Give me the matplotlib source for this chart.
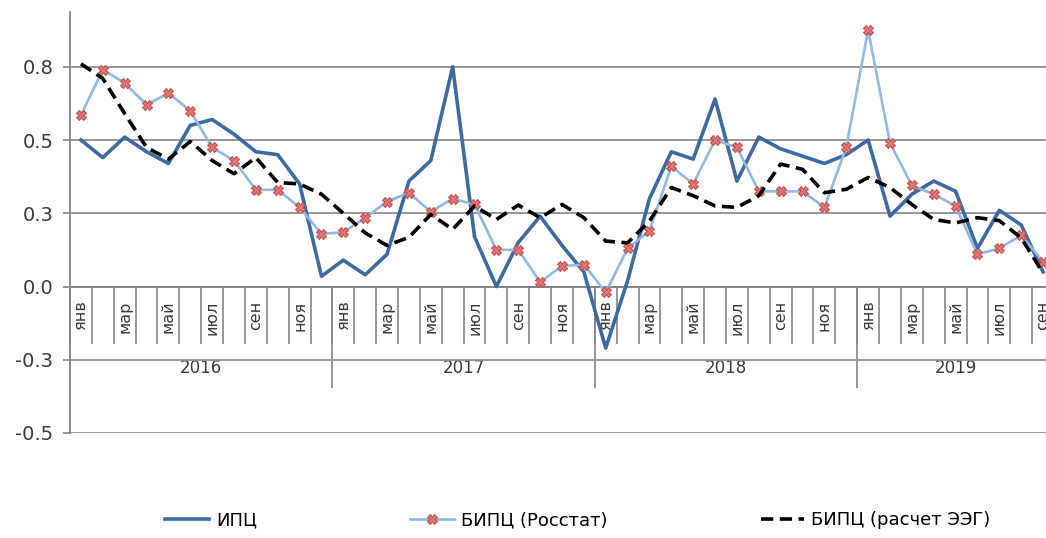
import numpy as np
import matplotlib
matplotlib.use('Agg')
import matplotlib.pyplot as plt
from matplotlib import font_manager

# monthly inflation, Jan 2016 .. Sep 2019
months = ['янв', 'фев', 'мар', 'апр', 'май', 'июн',
          'июл', 'авг', 'сен', 'окт', 'ноя', 'дек']
years = ['2016', '2017', '2018', '2019']
months_per_year = [12, 12, 12, 9]

cpi = [0.50, 0.44, 0.51, 0.46, 0.42, 0.55, 0.57, 0.52, 0.46, 0.45, 0.35, 0.035,
       0.09, 0.04, 0.11, 0.36, 0.43, 0.75, 0.17, 0.0, 0.15, 0.24, 0.14, 0.05,
       -0.21, 0.02, 0.30, 0.46, 0.435, 0.64, 0.36, 0.51, 0.47, 0.445, 0.42, 0.45,
       0.50, 0.24, 0.315, 0.36, 0.325, 0.13, 0.26, 0.21, 0.05]
hicp_rosstat = [0.585, 0.74, 0.695, 0.62, 0.66, 0.60, 0.475, 0.43, 0.33, 0.33, 0.27, 0.18,
                0.185, 0.235, 0.29, 0.32, 0.255, 0.30, 0.28, 0.125, 0.125, 0.015, 0.07, 0.075,
                -0.02, 0.13, 0.19, 0.41, 0.35, 0.50, 0.475, 0.325, 0.325, 0.325, 0.27, 0.475,
                0.875, 0.49, 0.345, 0.315, 0.275, 0.11, 0.13, 0.175, 0.085]
hicp_eeg = [0.76, 0.71, 0.59, 0.475, 0.435, 0.495, 0.43, 0.385, 0.44, 0.355, 0.35, 0.315,
            0.25, 0.183, 0.14, 0.168, 0.246, 0.195, 0.275, 0.229, 0.278, 0.235, 0.28, 0.235,
            0.155, 0.149, 0.223, 0.338, 0.31, 0.275, 0.27, 0.31, 0.418, 0.40, 0.32, 0.332,
            0.372, 0.338, 0.28, 0.229, 0.217, 0.235, 0.225, 0.166, 0.046]

yticks = [-0.5, -0.25, 0.0, 0.25, 0.5, 0.75]
ytick_labels = ['-0.5', '-0.3', '0.0', '0.3', '0.5', '0.8']
labels = ['ИПЦ', 'БИПЦ (Росстат)', 'БИПЦ (расчет ЭЭГ)']


def main():
    names = {f.name for f in font_manager.fontManager.ttflist}
    narrow = 'Liberation Sans Narrow' if 'Liberation Sans Narrow' in names else 'DejaVu Sans'

    W, H = 1046, 538
    fig = plt.figure(figsize=(W / 100, H / 100), dpi=100)
    ax = fig.add_axes([70 / W, (H - 433) / H, (1054 - 70) / W, (433 - 12) / H])

    x = np.arange(len(cpi))
    ymin, ymax = -0.5, 0.937

    ax.plot(x, cpi, color='#3f6aa0', lw=2.6, label=labels[0], zorder=3)
    ax.plot(x, hicp_rosstat, color='#94b8e2', lw=1.9, marker='X', ms=7,
            mfc='#e07878', mec='#c24f4f', mew=0.8, label=labels[1], zorder=4)
    ax.plot(x, hicp_eeg, color='black', lw=2.6, ls=(0, (3.4, 1.8)),
            label=labels[2], zorder=5)

    ax.set_xlim(-0.5, len(cpi) - 0.5)
    ax.set_ylim(ymin, ymax)

    gray = '#858585'
    for s in ['top', 'right']:
        ax.spines[s].set_visible(False)
    ax.spines['left'].set_color(gray)
    ax.spines['left'].set_linewidth(1.3)
    ax.spines['bottom'].set_position(('data', 0))
    ax.spines['bottom'].set_color(gray)
    ax.spines['bottom'].set_linewidth(1.3)

    ax.set_yticks(yticks, ytick_labels)
    ax.tick_params(axis='y', length=5, width=1.2, color=gray, pad=7,
                   labelsize=14, labelcolor='#3a3a3a')
    ax.yaxis.grid(True, color='#8f8f8f', lw=1.3)
    ax.set_axisbelow(True)

    # month labels (every other month), month separators
    month_labels = [months[i % 12] if i % 2 == 0 else '' for i in x]
    ax.set_xticks(x, month_labels)
    ax.set_xticks(np.arange(-0.5, len(cpi), 1), minor=True)
    ax.tick_params(axis='x', which='major', length=0, pad=10, labelsize=11.5,
                   labelrotation=90, labelcolor='#3a3a3a')
    ax.tick_params(axis='x', which='minor', length=41, width=1.2, color=gray)

    # year level of the category axis
    bounds = np.cumsum([0] + months_per_year) - 0.5
    centers = (bounds[:-1] + bounds[1:]) / 2
    zero_frac = (0 - ymin) / (ymax - ymin)
    sec = ax.secondary_xaxis(zero_frac)
    sec.spines['bottom'].set_visible(False)
    sec.set_xticks(centers, years)
    sec.set_xticks(bounds[1:-1], minor=True)
    sec.tick_params(axis='x', which='major', length=0, pad=52, labelsize=12,
                    labelcolor='#3a3a3a')
    sec.tick_params(axis='x', which='minor', length=73, width=1.2, color=gray)

    fig.legend(loc='center', bbox_to_anchor=(578 / W, 18 / H), ncol=3,
               frameon=False, handlelength=2.4, handletextpad=0.4, columnspacing=8.5,
               prop={'family': [narrow, 'DejaVu Sans'], 'size': 13})

    fig.savefig('out.png', dpi=100)


if __name__ == '__main__':
    main()
